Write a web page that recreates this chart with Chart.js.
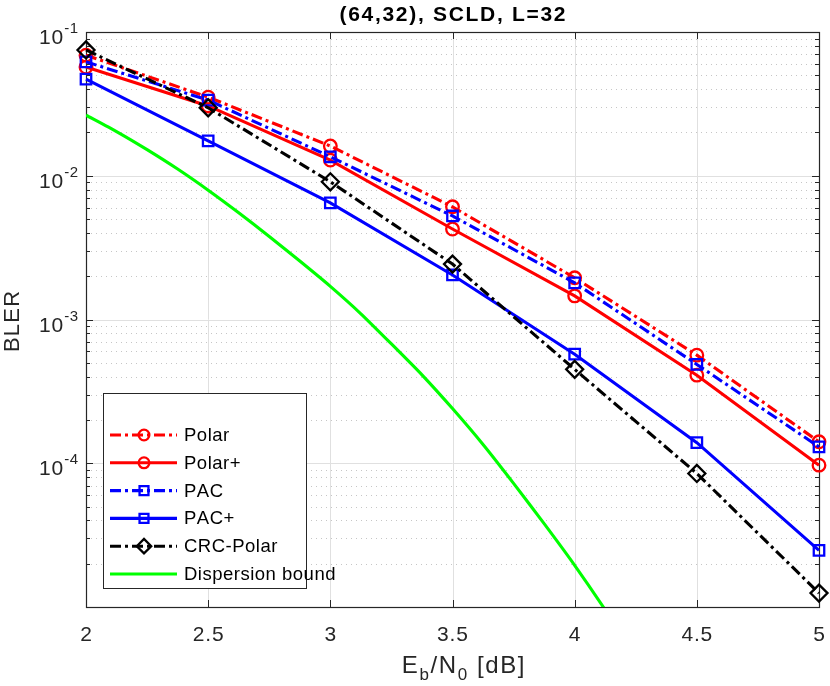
<!DOCTYPE html>
<html>
<head>
<meta charset="utf-8">
<script src="https://cdn.jsdelivr.net/npm/chart.js@4.4.1/dist/chart.umd.min.js"></script>
<style>
  body { margin: 0; background: #ffffff; }
  #wrap { width: 830px; height: 686px; }
</style>
</head>
<body>
<div id="wrap"><canvas id="bler"></canvas></div>
<script>
// Werte
const ebn0 = [2, 2.5, 3, 3.5, 4, 4.5, 5];
const polar = [0.069, 0.0352, 0.0161, 0.00608, 0.00195, 0.000565, 0.000141];
const polarPlus = [0.057, 0.0306, 0.01285, 0.00426, 0.00146, 0.00041, 0.000097];
const pac = [0.062, 0.0336, 0.01355, 0.00525, 0.0018, 0.000487, 0.00013];
const pacPlus = [0.047, 0.0175, 0.00648, 0.00204, 0.000574, 0.000139, 0.0000248];
const crcPolar = [0.075, 0.0297, 0.00908, 0.00243, 0.00045, 0.0000849, 0.0000125];

const boundEbn0 = [2, 2.125, 2.25, 2.375, 2.5, 2.625, 2.75, 2.875, 3,
    3.125, 3.25, 3.375, 3.5, 3.625, 3.75, 3.875, 4, 4.125, 4.25];
const boundBler = [0.0264, 0.0203, 0.0152, 0.01114, 0.00794, 0.00553, 0.00378, 0.00255, 0.0017,
    0.001096, 0.000676, 0.000412, 0.00024, 0.000135, 0.0000724, 0.000038, 0.0000195,
    0.00000955, 0.00000447];

const seriesNames = ['Polar', 'Polar+', 'PAC', 'PAC+', 'CRC-Polar', 'Dispersion bound'];
const xTicks = [2, 2.5, 3, 3.5, 4, 4.5, 5];
const xTickLabels = ['2', '2.5', '3', '3.5', '4', '4.5', '5'];
const yExponents = [-1, -2, -3, -4];
const titleText = '(64,32), SCLD, L=32';

// Stil
const DASHDOT = [11, 4, 3, 4];
const AXIS = '#262626';
const LW = 3.1;
const MW = 2.3;

function pts(xs, ys) {
    return xs.map((v, i) => ({ x: v, y: ys[i] }));
}

const styles = [
    { color: '#ff0000', dash: DASHDOT, marker: 'circle', r: 6.3 },
    { color: '#ff0000', dash: [], marker: 'circle', r: 6.3 },
    { color: '#0000ff', dash: DASHDOT, marker: 'rect', r: 7.4 },
    { color: '#0000ff', dash: [], marker: 'rect', r: 7.4 },
    { color: '#000000', dash: DASHDOT, marker: 'rectRot', r: 8.5 },
    { color: '#00ff00', dash: [], marker: null, r: 0 }
];

const seriesData = [polar, polarPlus, pac, pacPlus, crcPolar];

const datasets = seriesData.map((vals, i) => ({
    label: seriesNames[i],
    data: pts(ebn0, vals),
    borderColor: styles[i].color,
    borderWidth: LW,
    borderDash: styles[i].dash,
    pointStyle: styles[i].marker,
    pointRadius: styles[i].r,
    pointBorderWidth: MW,
    pointBorderColor: styles[i].color,
    pointBackgroundColor: 'rgba(0,0,0,0)',
    fill: false,
    tension: 0,
    clip: false,
    order: 10 - i
}));

datasets.push({
    label: seriesNames[5],
    data: pts(boundEbn0, boundBler),
    borderColor: styles[5].color,
    borderWidth: LW,
    pointRadius: 0,
    fill: false,
    tension: 0.2,
    clip: 0,
    order: 1
});

// Text Zeichen fuer Zeichen mit Sperrung zeichnen
function textWidth(ctx, str, spacing) {
    let w = 0;
    for (const ch of str) w += ctx.measureText(ch).width + spacing;
    return w - spacing;
}

function drawText(ctx, str, x, y, spacing) {
    let cx = x;
    for (const ch of str) {
        ctx.fillText(ch, cx, y);
        cx += ctx.measureText(ch).width + spacing;
    }
    return cx - spacing;
}

function strokeLine(ctx, x1, y1, x2, y2) {
    ctx.beginPath();
    ctx.moveTo(x1, y1);
    ctx.lineTo(x2, y2);
    ctx.stroke();
}

function drawMarker(ctx, style, x, y) {
    const r = style.r;
    ctx.beginPath();
    if (style.marker === 'circle') {
        ctx.arc(x, y, r, 0, Math.PI * 2);
    } else if (style.marker === 'rect') {
        const s = Math.SQRT1_2 * r;
        ctx.rect(x - s, y - s, 2 * s, 2 * s);
    } else if (style.marker === 'rectRot') {
        ctx.moveTo(x - r, y);
        ctx.lineTo(x, y - r);
        ctx.lineTo(x + r, y);
        ctx.lineTo(x, y + r);
        ctx.closePath();
    }
    ctx.stroke();
}

const matlabFrame = {
    id: 'matlabFrame',
    beforeDatasetsDraw(chart) {
        const { ctx, chartArea: a, scales: { x, y } } = chart;
        ctx.save();

        // kleines Gitter (gepunktet)
        const minorY = [];
        for (let e = -5; e <= -2; e++) {
            for (let k = 2; k <= 9; k++) minorY.push(k * Math.pow(10, e));
        }
        ctx.lineWidth = 1;
        ctx.strokeStyle = '#c6c6c6';
        ctx.setLineDash([1, 4]);
        minorY.forEach(v => {
            const py = Math.round(y.getPixelForValue(v)) + 0.5;
            strokeLine(ctx, a.left, py, a.right, py);
        });
        ctx.setLineDash([]);

        // Hauptgitter
        ctx.strokeStyle = '#e0e0e0';
        yExponents.forEach(e => {
            const py = Math.round(y.getPixelForValue(Math.pow(10, e))) + 0.5;
            strokeLine(ctx, a.left, py, a.right, py);
        });
        xTicks.forEach(v => {
            const px = Math.round(x.getPixelForValue(v)) + 0.5;
            strokeLine(ctx, px, a.top, px, a.bottom);
        });

        // Achsenrahmen
        ctx.strokeStyle = AXIS;
        ctx.lineWidth = 1.2;
        ctx.strokeRect(Math.round(a.left) + 0.5, Math.round(a.top) + 0.5,
            Math.round(a.width), Math.round(a.height));

        // Striche nach innen
        ctx.lineWidth = 1;
        xTicks.forEach(v => {
            const px = Math.round(x.getPixelForValue(v)) + 0.5;
            strokeLine(ctx, px, a.bottom, px, a.bottom - 7);
            strokeLine(ctx, px, a.top, px, a.top + 7);
        });
        yExponents.forEach(e => {
            const py = Math.round(y.getPixelForValue(Math.pow(10, e))) + 0.5;
            strokeLine(ctx, a.left, py, a.left + 7, py);
            strokeLine(ctx, a.right, py, a.right - 7, py);
        });
        minorY.forEach(v => {
            const py = Math.round(y.getPixelForValue(v)) + 0.5;
            strokeLine(ctx, a.left, py, a.left + 4, py);
            strokeLine(ctx, a.right, py, a.right - 4, py);
        });

        // Beschriftungen
        ctx.fillStyle = AXIS;
        ctx.textBaseline = 'alphabetic';
        ctx.textAlign = 'left';

        ctx.font = '21px "Liberation Sans", Arial, sans-serif';
        xTicks.forEach((v, i) => {
            const px = x.getPixelForValue(v);
            const w = textWidth(ctx, xTickLabels[i], 0.8);
            drawText(ctx, xTickLabels[i], px - w / 2, a.bottom + 34, 0.8);
        });

        yExponents.forEach(e => {
            const py = y.getPixelForValue(Math.pow(10, e));
            const sup = String(e);
            ctx.font = '15px "Liberation Sans", Arial, sans-serif';
            const ws = textWidth(ctx, sup, 0.5);
            ctx.font = '21px "Liberation Sans", Arial, sans-serif';
            const wb = textWidth(ctx, '10', 0.8);
            const x0 = a.left - 9 - ws - wb;
            drawText(ctx, '10', x0, py + 12, 0.8);
            ctx.font = '15px "Liberation Sans", Arial, sans-serif';
            drawText(ctx, sup, x0 + wb + 1, py + 1, 0.5);
        });

        // y-Achsentitel
        ctx.save();
        ctx.translate(19, (a.top + a.bottom) / 2 + 2);
        ctx.rotate(-Math.PI / 2);
        ctx.font = '22px "Liberation Sans", Arial, sans-serif';
        const wy = textWidth(ctx, 'BLER', 1.2);
        drawText(ctx, 'BLER', -wy / 2, 0, 1.2);
        ctx.restore();

        // x-Achsentitel E_b/N_0 [dB]
        const big = '24px "Liberation Sans", Arial, sans-serif';
        const small = '17px "Liberation Sans", Arial, sans-serif';
        const parts = [
            { t: 'E', f: big, dy: 0 },
            { t: 'b', f: small, dy: 7 },
            { t: '/N', f: big, dy: 0 },
            { t: '0', f: small, dy: 7 },
            { t: ' [dB]', f: big, dy: 0 }
        ];
        const sp = 1.6;
        let total = 0;
        parts.forEach(p => { ctx.font = p.f; p.w = textWidth(ctx, p.t, sp); total += p.w + sp; });
        let cx = 464 - total / 2;
        parts.forEach(p => {
            ctx.font = p.f;
            drawText(ctx, p.t, cx, 673 + p.dy, sp);
            cx += p.w + sp;
        });

        // Titel
        ctx.font = 'bold 21px "Liberation Sans", Arial, sans-serif';
        ctx.fillStyle = '#000000';
        const wt = textWidth(ctx, titleText, 1.7);
        drawText(ctx, titleText, (a.left + a.right) / 2 - wt / 2, 21, 1.7);

        ctx.restore();
    },
    afterDatasetsDraw(chart) {
        const { ctx } = chart;
        ctx.save();
        // Legende unten links im Achsenfeld
        const box = { l: 103, t: 393, r: 306, b: 588 };
        ctx.fillStyle = '#ffffff';
        ctx.fillRect(box.l, box.t, box.r - box.l, box.b - box.t);
        ctx.strokeStyle = '#262626';
        ctx.lineWidth = 1;
        ctx.strokeRect(box.l + 0.5, box.t + 0.5, box.r - box.l, box.b - box.t);

        ctx.font = '18.5px "Liberation Sans", Arial, sans-serif';
        ctx.textBaseline = 'middle';
        seriesNames.forEach((name, i) => {
            const st = styles[i];
            const yy = 435 + i * 27.8;
            ctx.strokeStyle = st.color;
            ctx.lineWidth = LW;
            ctx.setLineDash(st.dash);
            strokeLine(ctx, 110, yy, 177, yy);
            ctx.setLineDash([]);
            if (st.marker) {
                ctx.lineWidth = MW;
                drawMarker(ctx, { marker: st.marker, r: st.r * 0.85 }, 144, yy);
            }
            ctx.fillStyle = '#000000';
            drawText(ctx, name, 184, yy + 1, 0.5);
        });
        ctx.restore();
    }
};

new Chart(document.getElementById('bler'), {
    type: 'line',
    data: { datasets: datasets },
    options: {
        responsive: true,
        maintainAspectRatio: false,
        animation: false,
        events: [],
        layout: { padding: { left: 86, right: 11, top: 32, bottom: 79 } },
        scales: {
            x: { type: 'linear', min: 2, max: 5, display: false },
            y: { type: 'logarithmic', min: 1e-5, max: 0.1, display: false }
        },
        plugins: {
            legend: { display: false },
            tooltip: { enabled: false }
        }
    },
    plugins: [matlabFrame]
});
</script>
</body>
</html>
